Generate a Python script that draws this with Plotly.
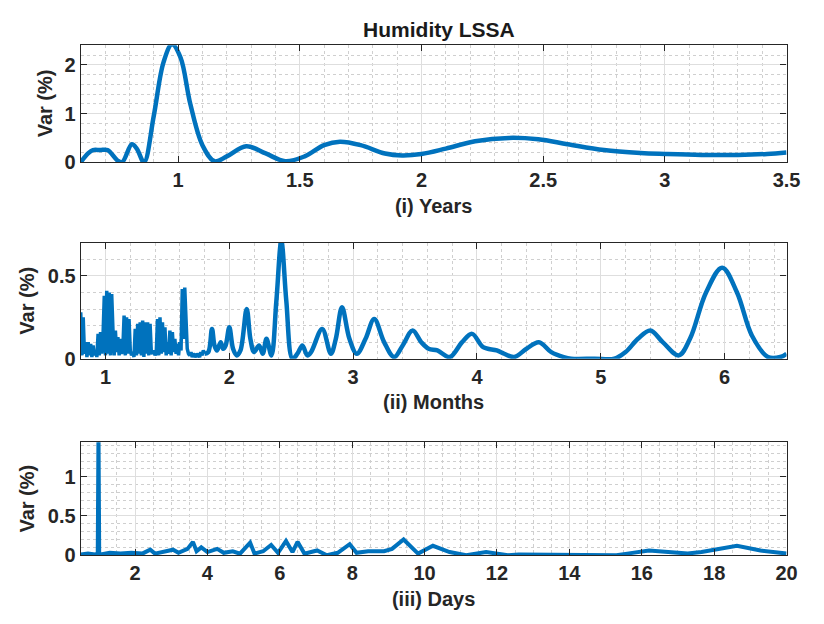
import numpy as np
import plotly.graph_objects as go

# (i) Years
years_x = [0.60, 0.63, 0.65, 0.68, 0.71, 0.75, 0.77, 0.81, 0.83, 0.86, 0.90, 0.94, 0.975, 1.01,
           1.05, 1.10, 1.15, 1.20, 1.28, 1.36, 1.44, 1.52, 1.60, 1.665, 1.75, 1.85, 1.92,
           2.00, 2.10, 2.22, 2.36, 2.48, 2.60, 2.75, 2.90, 3.00, 3.15, 3.30, 3.42, 3.50]
years_y = [0.00, 0.18, 0.25, 0.25, 0.25, 0.04, 0.00, 0.37, 0.28, 0.00, 0.95, 2.05, 2.42, 2.15,
           1.20, 0.35, 0.02, 0.12, 0.33, 0.18, 0.02, 0.12, 0.35, 0.42, 0.35, 0.18, 0.14,
           0.17, 0.28, 0.43, 0.50, 0.47, 0.37, 0.25, 0.19, 0.17, 0.15, 0.15, 0.17, 0.20]

# (ii) Months - dense part sampled every 0.01 from 0.80 to 1.80
months_dense_y = [0.28, 0.02, 0.25, 0.03, 0.10, 0.01, 0.10, 0.02, 0.09, 0.01,
                  0.08, 0.02, 0.05, 0.01, 0.15, 0.02, 0.16, 0.03, 0.14, 0.38,
                  0.02, 0.41, 0.03, 0.40, 0.02, 0.39, 0.18, 0.02, 0.17, 0.04,
                  0.13, 0.02, 0.12, 0.03, 0.06, 0.26, 0.02, 0.25, 0.03, 0.24,
                  0.05, 0.02, 0.04, 0.01, 0.18, 0.02, 0.21, 0.03, 0.22, 0.02,
                  0.23, 0.01, 0.22, 0.03, 0.22, 0.02, 0.21, 0.04, 0.03, 0.05,
                  0.02, 0.04, 0.24, 0.02, 0.25, 0.03, 0.22, 0.04, 0.19, 0.02,
                  0.10, 0.03, 0.17, 0.02, 0.16, 0.04, 0.12, 0.03, 0.09, 0.02,
                  0.10, 0.05, 0.42, 0.12, 0.43, 0.20, 0.06, 0.03, 0.02, 0.04,
                  0.01, 0.03, 0.02, 0.01, 0.03, 0.02, 0.01, 0.04, 0.02, 0.05, 0.03]
months_dense_x = np.round(np.arange(0.80, 1.805, 0.01), 2)

months_x = [1.80, 1.83, 1.86, 1.88, 1.90, 1.93, 1.95, 1.97, 2.00, 2.03, 2.06, 2.09, 2.14, 2.17,
            2.20, 2.24, 2.27, 2.30, 2.34, 2.38, 2.42, 2.46, 2.51, 2.55, 2.59, 2.63, 2.66,
            2.75, 2.82, 2.86, 2.91, 2.97, 3.03, 3.10, 3.17, 3.25, 3.33, 3.40, 3.48, 3.55,
            3.61, 3.68, 3.78, 3.88, 3.96, 4.05, 4.16, 4.22, 4.30, 4.40, 4.50, 4.60, 4.70,
            4.76, 4.95, 5.11, 5.20, 5.30, 5.40, 5.50, 5.63, 5.72, 5.85, 5.98, 6.10, 6.22,
            6.35, 6.45, 6.50]
months_y = [0.03, 0.04, 0.18, 0.08, 0.05, 0.10, 0.06, 0.08, 0.19, 0.06, 0.02, 0.05, 0.30, 0.12,
            0.04, 0.08, 0.03, 0.12, 0.02, 0.35, 0.71, 0.35, 0.00, 0.03, 0.08, 0.02, 0.04,
            0.18, 0.03, 0.12, 0.31, 0.12, 0.03, 0.12, 0.24, 0.10, 0.01, 0.08, 0.17, 0.10,
            0.06, 0.05, 0.01, 0.10, 0.15, 0.07, 0.05, 0.03, 0.01, 0.06, 0.10, 0.04, 0.01,
            0.00, 0.00, 0.00, 0.04, 0.12, 0.17, 0.10, 0.02, 0.12, 0.40, 0.55, 0.40, 0.14,
            0.01, 0.01, 0.03]

# (iii) Days
days_x = [0.50, 0.70, 0.90, 0.97, 0.99, 1.01, 1.05, 1.30, 1.60, 1.90, 2.20, 2.42, 2.55, 2.80,
          3.05, 3.20, 3.45, 3.60, 3.70, 3.83, 4.00, 4.27, 4.45, 4.70, 4.90, 5.18, 5.30,
          5.54, 5.76, 5.95, 6.17, 6.35, 6.49, 6.68, 7.03, 7.30, 7.60, 7.93, 8.12, 8.44,
          8.88, 9.10, 9.42, 9.82, 10.23, 10.69, 11.15, 11.70, 12.04, 12.30, 12.60, 13.90,
          14.10, 15.30, 15.60, 16.20, 16.73, 17.27, 17.65, 18.00, 18.63, 19.28, 19.90, 20.00]
days_y = [0.01, 0.02, 0.01, 0.02, 1.60, 0.02, 0.01, 0.03, 0.02, 0.03, 0.02, 0.07, 0.02, 0.04,
          0.07, 0.03, 0.08, 0.17, 0.05, 0.10, 0.04, 0.08, 0.03, 0.05, 0.02, 0.16, 0.02,
          0.05, 0.13, 0.03, 0.18, 0.04, 0.17, 0.02, 0.06, 0.00, 0.03, 0.14, 0.03, 0.05,
          0.05, 0.08, 0.20, 0.02, 0.12, 0.04, 0.00, 0.04, 0.02, 0.00, 0.01, 0.01,
          0.00, 0.00, 0.02, 0.06, 0.04, 0.02, 0.04, 0.07, 0.12, 0.06, 0.02, 0.02]

BLUE = '#0072BD'
FONT = dict(family='Liberation Sans, Arial, sans-serif', size=20, color='#262626', weight='bold')

fig = go.Figure()
fig.add_trace(go.Scatter(x=years_x, y=years_y, mode='lines', line=dict(color=BLUE, width=4.5, shape='spline'),
                         xaxis='x', yaxis='y'))
fig.add_trace(go.Scatter(x=months_dense_x, y=months_dense_y, mode='lines', line=dict(color=BLUE, width=3.5),
                         xaxis='x2', yaxis='y2'))
fig.add_trace(go.Scatter(x=months_x, y=months_y, mode='lines', line=dict(color=BLUE, width=4.5, shape='spline'),
                         xaxis='x2', yaxis='y2'))
fig.add_trace(go.Scatter(x=days_x, y=days_y, mode='lines', line=dict(color=BLUE, width=4),
                         xaxis='x3', yaxis='y3'))


def axis_style(rng, dtick, minor_dtick, **kw):
    d = dict(range=rng, dtick=dtick, showgrid=True, gridcolor='#dedede', gridwidth=1,
             zeroline=False, showline=True, linecolor='#262626', linewidth=1.2, mirror='ticks',
             ticks='inside', ticklen=6, tickcolor='#262626', tickfont=FONT,
             minor=dict(dtick=minor_dtick, showgrid=True, gridcolor='#cfcfcf', griddash='dot',
                        ticks=''))
    d.update(kw)
    return d


xdom = [74 / 824, 792 / 824]
ydoms = [[1 - 157 / 624, 1 - 38 / 624], [1 - 357 / 624, 1 - 239 / 624], [1 - 557 / 624, 1 - 442 / 624]]

# y-axis titles placed as annotations (left edge in px)
ytitle_x = [25, 7, 7]
annotations = [dict(text='Var (%)', textangle=-90, xref='paper', yref='paper',
                    x=px / 824, y=(dom[0] + dom[1]) / 2, xanchor='left', yanchor='middle',
                    showarrow=False, font=FONT, borderpad=0)
               for px, dom in zip(ytitle_x, ydoms)]

layout = go.Layout(
    width=824, height=624, showlegend=False,
    paper_bgcolor='white', plot_bgcolor='white',
    margin=dict(l=0, r=0, t=0, b=0),
    font=FONT,
    title=dict(text='Humidity LSSA', x=0.523, xanchor='center', y=1 - 22 / 624, yanchor='middle',
               font=dict(family=FONT['family'], size=21, color='#1a1a1a', weight='bold')),
    xaxis=axis_style([0.6, 3.5], 0.5, 0.1, domain=xdom, anchor='y', tick0=0,
                     title=dict(text='(i) Years', font=FONT, standoff=8)),
    yaxis=axis_style([0, 2.4], 1, 0.2, domain=ydoms[0], anchor='x'),
    xaxis2=axis_style([0.8, 6.5], 1, 0.2, domain=xdom, anchor='y2', tick0=0,
                      title=dict(text='(ii) Months', font=FONT, standoff=8)),
    yaxis2=axis_style([0, 0.7], 0.5, 0.1, domain=ydoms[1], anchor='x2'),
    xaxis3=axis_style([0.5, 20], 2, 0.5, domain=xdom, anchor='y3', tick0=0,
                      title=dict(text='(iii) Days', font=FONT, standoff=8)),
    yaxis3=axis_style([0, 1.44], 0.5, 0.1, domain=ydoms[2], anchor='x3'),
    annotations=annotations,
)
fig.update_layout(layout)
fig.write_html('out.html')
